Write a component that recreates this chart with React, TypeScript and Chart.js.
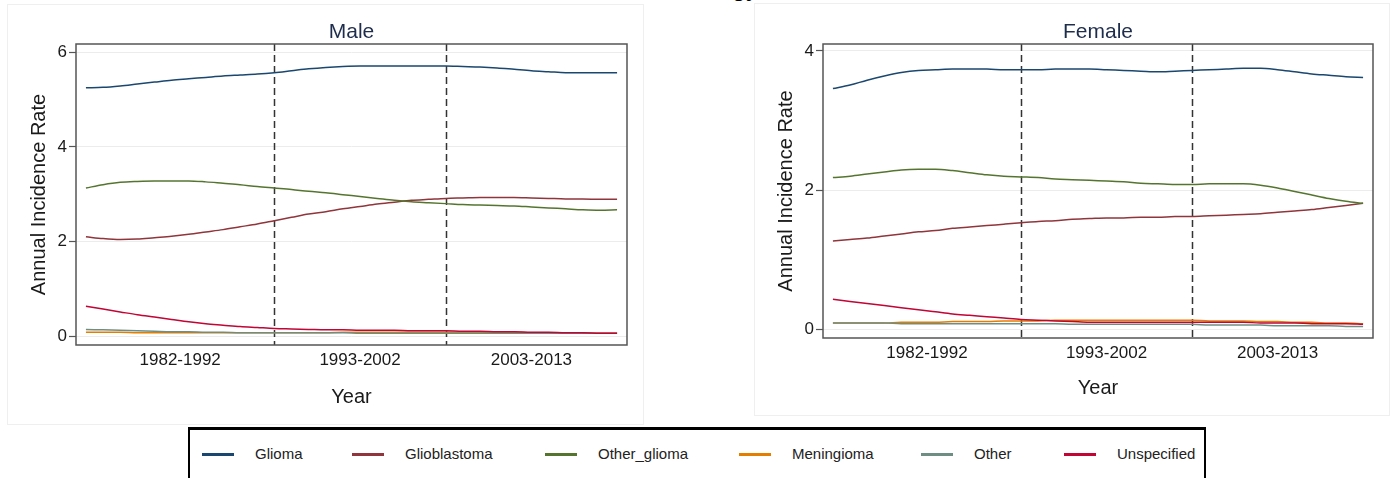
import React, { useEffect, useRef } from "react";
import { Chart, registerables } from "chart.js";

Chart.register(...registerables);

// ---------------- DATA ----------------
const years = [
  1982, 1983, 1984, 1985, 1986, 1987, 1988, 1989, 1990, 1991, 1992, 1993, 1994, 1995, 1996, 1997,
  1998, 1999, 2000, 2001, 2002, 2003, 2004, 2005, 2006, 2007, 2008, 2009, 2010, 2011, 2012, 2013,
];
const periodLabels = ["1982-1992", "1993-2002", "2003-2013"];
const periodCenters = [1987.5, 1998, 2008];
const periodBreaks = [1993, 2003];

const seriesNames = ["Glioma", "Glioblastoma", "Other_glioma", "Meningioma", "Other", "Unspecified"];
const seriesColors = ["#1a476f", "#90353b", "#55752f", "#e37e00", "#6e8e84", "#c10534"];

const maleGlioma = [
  5.25, 5.26, 5.29, 5.33, 5.37, 5.41, 5.44, 5.47, 5.5, 5.52, 5.54, 5.57, 5.61, 5.65, 5.68, 5.7,
  5.71, 5.71, 5.71, 5.71, 5.71, 5.71, 5.7, 5.69, 5.67, 5.64, 5.61, 5.59, 5.57, 5.57, 5.57, 5.57,
];
const maleGlioblastoma = [
  2.1, 2.06, 2.04, 2.05, 2.08, 2.11, 2.15, 2.2, 2.25, 2.31, 2.37, 2.44, 2.51, 2.58, 2.63, 2.69,
  2.74, 2.79, 2.83, 2.87, 2.89, 2.91, 2.92, 2.93, 2.93, 2.93, 2.92, 2.91, 2.9, 2.9, 2.89, 2.89,
];
const maleOtherGlioma = [
  3.13, 3.2, 3.25, 3.27, 3.28, 3.28, 3.28, 3.26, 3.23, 3.2, 3.16, 3.13, 3.1, 3.06, 3.03, 2.99,
  2.95, 2.91, 2.87, 2.84, 2.82, 2.8, 2.78, 2.77, 2.76, 2.75, 2.73, 2.71, 2.69, 2.67, 2.66, 2.67,
];
const maleMeningioma = [
  0.08, 0.08, 0.08, 0.07, 0.07, 0.07, 0.07, 0.07, 0.07, 0.07, 0.07, 0.07, 0.07, 0.07, 0.07, 0.08,
  0.08, 0.08, 0.08, 0.08, 0.08, 0.08, 0.08, 0.08, 0.08, 0.08, 0.07, 0.07, 0.07, 0.06, 0.06, 0.06,
];
const maleOther = [
  0.14, 0.13, 0.12, 0.11, 0.1, 0.09, 0.09, 0.08, 0.08, 0.07, 0.07, 0.07, 0.07, 0.07, 0.07, 0.07,
  0.06, 0.06, 0.06, 0.06, 0.06, 0.06, 0.06, 0.06, 0.06, 0.06, 0.06, 0.06, 0.06, 0.06, 0.06, 0.06,
];
const maleUnspecified = [
  0.63, 0.57, 0.51, 0.45, 0.4, 0.35, 0.3, 0.26, 0.23, 0.2, 0.18, 0.16, 0.15, 0.14, 0.13, 0.13,
  0.12, 0.12, 0.12, 0.11, 0.11, 0.11, 0.1, 0.1, 0.09, 0.09, 0.08, 0.08, 0.07, 0.07, 0.06, 0.06,
];

const femaleGlioma = [
  3.46, 3.51, 3.58, 3.64, 3.69, 3.72, 3.73, 3.74, 3.74, 3.74, 3.73, 3.73, 3.73, 3.74, 3.74, 3.74,
  3.73, 3.72, 3.71, 3.7, 3.71, 3.72, 3.73, 3.74, 3.75, 3.75, 3.73, 3.7, 3.67, 3.65, 3.63, 3.62,
];
const femaleGlioblastoma = [
  1.27, 1.29, 1.31, 1.34, 1.37, 1.4, 1.42, 1.45, 1.47, 1.49, 1.51, 1.53, 1.55, 1.56, 1.58, 1.59,
  1.6, 1.6, 1.61, 1.61, 1.62, 1.62, 1.63, 1.64, 1.65, 1.66, 1.68, 1.7, 1.72, 1.75, 1.78, 1.81,
];
const femaleOtherGlioma = [
  2.18, 2.2, 2.23, 2.26, 2.29, 2.3, 2.3, 2.28, 2.25, 2.22, 2.2, 2.19, 2.18, 2.16, 2.15, 2.14,
  2.13, 2.12, 2.1, 2.09, 2.08, 2.08, 2.09, 2.09, 2.09, 2.07, 2.03, 1.98, 1.93, 1.88, 1.84, 1.81,
];
const femaleMeningioma = [
  0.09, 0.09, 0.09, 0.09, 0.1, 0.1, 0.1, 0.11, 0.11, 0.11, 0.12, 0.12, 0.12, 0.13, 0.13, 0.13,
  0.13, 0.13, 0.13, 0.13, 0.13, 0.13, 0.12, 0.12, 0.12, 0.11, 0.11, 0.1, 0.1, 0.09, 0.09, 0.08,
];
const femaleOther = [
  0.09, 0.09, 0.09, 0.09, 0.08, 0.08, 0.08, 0.08, 0.08, 0.08, 0.08, 0.08, 0.08, 0.08, 0.07, 0.07,
  0.07, 0.07, 0.07, 0.07, 0.07, 0.07, 0.06, 0.06, 0.06, 0.06, 0.05, 0.05, 0.05, 0.05, 0.04, 0.04,
];
const femaleUnspecified = [
  0.43, 0.4, 0.37, 0.34, 0.31, 0.28, 0.25, 0.22, 0.2, 0.18, 0.16, 0.14, 0.13, 0.12, 0.11, 0.1,
  0.1, 0.1, 0.1, 0.1, 0.1, 0.1, 0.1, 0.1, 0.1, 0.09, 0.09, 0.09, 0.08, 0.08, 0.08, 0.07,
];

const maleSeries = [maleGlioma, maleGlioblastoma, maleOtherGlioma, maleMeningioma, maleOther, maleUnspecified];
const femaleSeries = [
  femaleGlioma, femaleGlioblastoma, femaleOtherGlioma, femaleMeningioma, femaleOther, femaleUnspecified,
];
const maleYTicks = [0, 2, 4, 6];
const femaleYTicks = [0, 2, 4];

// ---------------- STYLE / LAYOUT ----------------
const FONT = "'Liberation Sans', Arial, Helvetica, sans-serif";
const legendItemLeft = [12, 162, 355, 549, 731, 874];

type PanelProps = {
  title: string;
  series: number[][];
  yTicks: number[];
  yMin: number;
  yMax: number;
  left: number;
  top: number;
  width: number;
  height: number;
  areaLeft: number;
  areaTop: number;
  areaRight: number;
  xAxisHeight: number;
  yTitlePad: number;
  xTitlePad: number;
  titleBaseline: number;
};

function Panel(p: PanelProps) {
  const ref = useRef<HTMLCanvasElement | null>(null);
  useEffect(() => {
    const canvas = ref.current;
    if (!canvas) return;
    const decor = {
      id: "panelDecor",
      beforeDatasetsDraw(chart: any) {
        const { ctx, chartArea, scales } = chart;
        ctx.save();
        ctx.strokeStyle = "#333333";
        ctx.lineWidth = 1.5;
        ctx.setLineDash([7, 4]);
        for (const b of periodBreaks) {
          const x = Math.round(scales.x.getPixelForValue(b)) + 0.5;
          ctx.beginPath();
          ctx.moveTo(x, chartArea.top);
          ctx.lineTo(x, chartArea.bottom);
          ctx.stroke();
        }
        ctx.restore();
      },
      afterDraw(chart: any) {
        const { ctx, chartArea } = chart;
        ctx.save();
        ctx.strokeStyle = "#555555";
        ctx.lineWidth = 1.5;
        ctx.strokeRect(chartArea.left, chartArea.top, chartArea.right - chartArea.left, chartArea.bottom - chartArea.top);
        ctx.fillStyle = "#1f2d4d";
        ctx.font = `21px ${FONT}`;
        ctx.textAlign = "center";
        ctx.textBaseline = "alphabetic";
        ctx.fillText(p.title, (chartArea.left + chartArea.right) / 2, p.titleBaseline);
        ctx.restore();
      },
    };
    const datasets = seriesNames.map((name, i) => ({
      label: name,
      data: years.map((yr, j) => ({ x: yr, y: p.series[i][j] })),
      borderColor: seriesColors[i],
      backgroundColor: seriesColors[i],
      borderWidth: 1.5,
      pointRadius: 0,
      cubicInterpolationMode: "monotone" as const,
      fill: false,
      order: seriesNames.length - i,
    }));
    const chart = new Chart(canvas, {
      type: "line",
      data: { datasets },
      plugins: [decor],
      options: {
        responsive: false,
        animation: false,
        devicePixelRatio: 1,
        layout: {
          padding: { left: 0, top: p.areaTop, right: p.width - 2 - p.areaRight, bottom: 0 },
        },
        plugins: { legend: { display: false }, tooltip: { enabled: false }, title: { display: false } },
        scales: {
          x: {
            type: "linear",
            min: 1981.42,
            max: 2013.58,
            afterFit: (axis: any) => {
              axis.height = p.xAxisHeight;
            },
            afterBuildTicks: (axis: any) => {
              axis.ticks = periodCenters.map((v) => ({ value: v }));
            },
            grid: { display: false, drawTicks: false },
            border: { display: false },
            ticks: {
              autoSkip: false,
              maxRotation: 0,
              padding: 5,
              color: "#1a1a1a",
              font: { family: FONT, size: 17 },
              callback: (v: any) => {
                const idx = periodCenters.indexOf(Number(v));
                return idx >= 0 ? periodLabels[idx] : "";
              },
            },
            title: {
              display: true,
              text: "Year",
              color: "#1a1a1a",
              font: { family: FONT, size: 20 },
              padding: { top: 0, bottom: p.xTitlePad },
            },
          },
          y: {
            type: "linear",
            min: p.yMin,
            max: p.yMax,
            afterFit: (axis: any) => {
              axis.width = p.areaLeft;
            },
            afterBuildTicks: (axis: any) => {
              axis.ticks = p.yTicks.map((v) => ({ value: v }));
            },
            grid: {
              color: "#ececec",
              lineWidth: 1,
              drawTicks: true,
              tickLength: 7,
              tickColor: "#555555",
              tickWidth: 1.2,
            },
            border: { display: false },
            ticks: {
              padding: 2,
              color: "#1a1a1a",
              font: { family: FONT, size: 17 },
              callback: (v: any) => String(v),
            },
            title: {
              display: true,
              text: "Annual Incidence Rate",
              color: "#1a1a1a",
              font: { family: FONT, size: 20 },
              padding: { top: p.yTitlePad, bottom: 0 },
            },
          },
        },
      },
    });
    return () => chart.destroy();
  }, []);
  return (
    <div
      style={{
        position: "absolute",
        left: p.left,
        top: p.top,
        width: p.width,
        height: p.height,
        boxSizing: "border-box",
        border: "1px solid #efefef",
        background: "#ffffff",
      }}
    >
      <canvas
        ref={ref}
        width={p.width - 2}
        height={p.height - 2}
        style={{ display: "block", width: p.width - 2, height: p.height - 2 }}
      />
    </div>
  );
}

function Legend() {
  return (
    <div
      style={{
        position: "absolute",
        left: 188,
        top: 427,
        width: 1018,
        height: 80,
        boxSizing: "border-box",
        borderTop: "3px solid #000",
        borderLeft: "2px solid #000",
        borderRight: "2px solid #000",
        background: "#fff",
      }}
    >
      {seriesNames.map((n, i) => (
        <div
          key={n}
          style={{
            position: "absolute",
            left: legendItemLeft[i],
            top: 15,
            display: "flex",
            alignItems: "center",
            whiteSpace: "nowrap",
          }}
        >
          <span style={{ display: "inline-block", width: 32, height: 3, background: seriesColors[i] }} />
          <span
            style={{
              marginLeft: 21,
              fontFamily: FONT,
              fontSize: 15,
              color: "#222",
              lineHeight: "18px",
            }}
          >
            {n}
          </span>
        </div>
      ))}
    </div>
  );
}

export default function App() {
  return (
    <div
      style={{
        position: "absolute",
        left: 0,
        top: 0,
        width: 1390,
        height: 478,
        overflow: "hidden",
        background: "#ffffff",
      }}
    >
      <div
        style={{
          position: "absolute",
          right: 632,
          top: -22,
          fontFamily: FONT,
          fontWeight: "bold",
          fontSize: 22,
          lineHeight: "22px",
          color: "#000",
          whiteSpace: "nowrap",
        }}
      >
        Histology
      </div>
      <Panel
        title="Male"
        series={maleSeries}
        yTicks={maleYTicks}
        yMin={-0.19}
        yMax={6.176}
        left={7}
        top={4}
        width={637}
        height={421}
        areaLeft={68}
        areaTop={39}
        areaRight={619}
        xAxisHeight={79}
        yTitlePad={19}
        xTitlePad={15}
        titleBaseline={33}
      />
      <Panel
        title="Female"
        series={femaleSeries}
        yTicks={femaleYTicks}
        yMin={-0.126}
        yMax={4.1}
        left={754}
        top={3}
        width={636}
        height={413}
        areaLeft={68}
        areaTop={40}
        areaRight={618}
        xAxisHeight={77}
        yTitlePad={19}
        xTitlePad={15}
        titleBaseline={34}
      />
      <Legend />
    </div>
  );
}
